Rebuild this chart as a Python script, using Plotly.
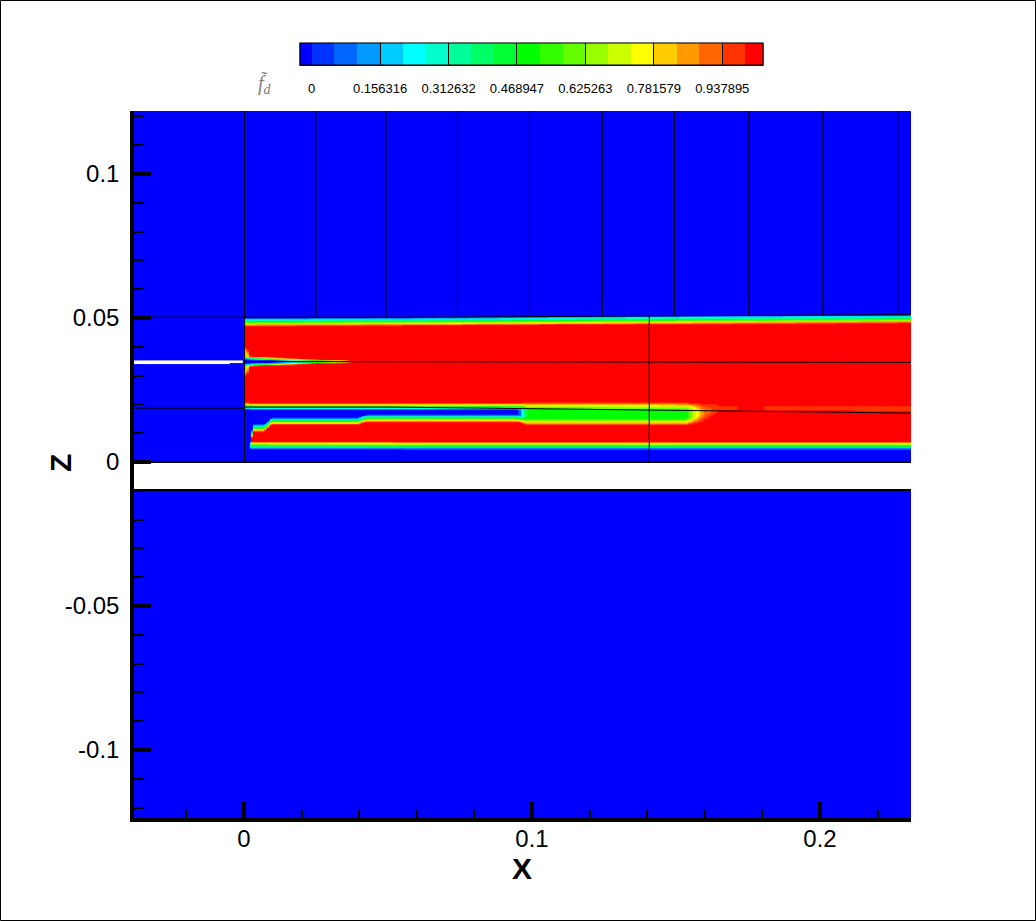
import numpy as np
import plotly.graph_objects as go

# ---------------- axes ----------------
x_range = [-0.0382, 0.2316]
z_range = [-0.1236, 0.1219]
x_tick_vals = [0.0, 0.1, 0.2]
x_tick_text = ["0", "0.1", "0.2"]
z_tick_vals = [-0.1, -0.05, 0.0, 0.05, 0.1]
z_tick_text = ["-0.1", "-0.05", "0", "0.05", "0.1"]

# ---------------- contour legend ----------------
cbar_ticks = [0, 0.156316, 0.312632, 0.468947, 0.625263, 0.781579, 0.937895]
cbar_text = ["0", "0.156316", "0.312632", "0.468947", "0.625263", "0.781579", "0.937895"]
n_levels = 20
cbar_min, cbar_max = -0.0267, 1.031
band_colors = ["#0000ff", "#0033ff", "#0066ff", "#0099ff", "#00ccff", "#00ffff", "#00ffcc",
               "#00ff99", "#00ff66", "#00ff33", "#00ff00", "#33ff00", "#66ff00", "#99ff00",
               "#ccff00", "#ffff00", "#ffcc00", "#ff9900", "#ff6600", "#ff3300", "#ff0000"]

# ---------------- field description ----------------
f_low, f_high = -0.02, 1.02
gap_z = [-0.0097, 0.0]          # white gap between the two domains
upper_top_z = 0.0525            # above this the field is uniform (blue)

jet_x = [0.0, 0.07, 0.14, 0.2316]
jet_top_z = [0.0486, 0.0489, 0.0493, 0.0497]
jet_bot_z = [0.0058, 0.0057, 0.0057, 0.0057]
jet_top_w = 0.0031
jet_bot_w = 0.0028

band_x = [0.0000, 0.0015, 0.0030, 0.0070, 0.0095, 0.0395, 0.0425, 0.0950, 0.0985,
          0.1535, 0.1595, 0.1650, 0.1710, 0.1730, 0.1790, 0.1810, 0.2316]
band_top = [0.0195, 0.0194, 0.0193, 0.0193, 0.0193, 0.0193, 0.0193, 0.0193, 0.0196,
            0.0195, 0.0195, 0.0198, 0.0198, 0.0198, 0.0198, 0.0198, 0.0196]
band_bot = [0.0000, 0.0000, 0.0118, 0.0118, 0.0142, 0.0142, 0.0152, 0.0152, 0.0139,
            0.0139, 0.0150, 0.0178, 0.0178, 0.0178, 0.0178, 0.0178, 0.0176]
band_depth = [1.0, 1.0, 1.0, 1.0, 1.0, 1.0, 1.0, 1.0, 0.50,
              0.50, 0.12, 0.05, 0.05, 0.0, 0.0, 0.05, 0.05]
band_w = 0.0026

wake_center = 0.0349
wake_x = [0.0002, 0.012, 0.036, 0.042, 0.2316]
wake_half = [0.0013, 0.0007, -0.0002, -0.0010, -0.0010]
wake_w = 0.0012
wake_depth = 1.0

lip_x = [0.0002, 0.0012, 0.0025]
lip_half = [0.0045, 0.0035, -0.0010]
lip_w = 0.002
lip_depth = 0.22

plate_x = [-0.0382, -0.0050, -0.0004]
plate_top = [0.0355, 0.0355, 0.0351]
plate_bot = [0.0340, 0.0341, 0.0346]

# ---------------- block (zone) boundary lines ----------------
upper_block_x = [0.0250, 0.0493, 0.0741, 0.0991, 0.1244, 0.1495, 0.1753, 0.2010, 0.2270]
blk_top_x = [-0.0382, 0.06, 0.2316]
blk_top_z = [0.0503, 0.0503, 0.0512]
blk_mid_x = [0.0002, 0.2316]
blk_mid_z = [0.0349, 0.0346]
blk_low_x = [-0.0382, 0.0002, 0.0002, 0.05, 0.2316]
blk_low_z = [0.0187, 0.0187, 0.0191, 0.0191, 0.0170]
blk_vert_x = [0.0002, 0.1407]

# ---------------- build grid ----------------
x_edges = np.round(np.arange(-0.0400, 0.2350 + 1e-9, 0.0005), 6)
xc = 0.5 * (x_edges[:-1] + x_edges[1:])
z_fine = np.round(np.arange(0.0, upper_top_z + 1e-9, 0.00025), 6)
zc = 0.5 * (z_fine[:-1] + z_fine[1:])
X, Z = np.meshgrid(xc, zc)


def ramp(t):
    return np.clip(t + 0.5, 0.0, 1.0)


zU = np.interp(X, jet_x, jet_top_z)
zL = np.interp(X, jet_x, jet_bot_z)
J = (X > 0).astype(float) * ramp((Z - zL) / jet_bot_w) * ramp((zU - Z) / jet_top_w)

bt = np.interp(X, band_x, band_top)
bb = np.interp(X, band_x, band_bot)
bd = np.interp(X, band_x, band_depth)
B = ramp((Z - bb) / band_w) * ramp((bt - Z) / band_w)

hw = np.interp(X, wake_x, wake_half)
W = ramp((hw - np.abs(Z - wake_center)) / wake_w) * (X > 0)
hl = np.interp(X, lip_x, lip_half)
L = ramp((hl - np.abs(Z - wake_center)) / lip_w) * (X > 0)

F = f_low + (f_high - f_low) * J * (1 - wake_depth * W) * (1 - lip_depth * L) * (1 - bd * B)

pt = np.interp(X, plate_x, plate_top)
pb = np.interp(X, plate_x, plate_bot)
plate_mask = (X < plate_x[-1]) & (Z >= pb) & (Z <= pt)
F = np.round(F, 4).astype(object)
F[plate_mask] = None

z_edges = [z_range[0] - 0.01, gap_z[0], gap_z[1]] + list(z_fine[1:]) + [z_range[1] + 0.01]
rows = [[f_low] * len(xc), [None] * len(xc)] + F.tolist() + [[f_low] * len(xc)]

# discrete colourscale
bounds = [cbar_min] + [k * cbar_ticks[1] / 3 for k in range(n_levels)] + [cbar_max]
span = cbar_max - cbar_min
colorscale = []
for i, c in enumerate(band_colors):
    colorscale.append([(bounds[i] - cbar_min) / span, c])
    colorscale.append([(bounds[i + 1] - cbar_min) / span, c])
colorscale[0][0] = 0.0
colorscale[-1][0] = 1.0

# ---------------- layout geometry ----------------
W_PX, H_PX = 1036, 921
ml, mr, mt, mb = 134, 125, 111, 103
pw, ph = W_PX - ml - mr, H_PX - mt - mb
cb_len_px, cb_thick_px = 463, 22
cb_left_px, cb_bar_bottom_px = 300, 66
cb_label_extent_px = 31          # labels hang below the bar by this much
cb_x = (cb_left_px + cb_len_px / 2 - ml) / pw
cb_y = (H_PX - mb - (cb_bar_bottom_px + cb_label_extent_px)) / ph
cb_div_y = (H_PX - mb - (cb_bar_bottom_px + cb_thick_px)) / ph   # inside ticks count in box

cb_common = dict(orientation="h", lenmode="pixels", len=cb_len_px,
                 thicknessmode="pixels", thickness=cb_thick_px,
                 x=cb_x, xanchor="center", yanchor="bottom",
                 xpad=0, ypad=0, outlinewidth=1, outlinecolor="black")

fig = go.Figure()
# field + labelled legend
fig.add_trace(go.Heatmap(
    x=x_edges, y=z_edges, z=rows, zmin=cbar_min, zmax=cbar_max,
    colorscale=colorscale, hoverinfo="skip",
    colorbar=dict(**cb_common, y=cb_y,
                  tickmode="array", tickvals=cbar_ticks, ticktext=cbar_text,
                  ticks="outside", ticklen=12, tickcolor="rgba(0,0,0,0)",
                  tickfont=dict(family="Liberation Sans", size=13, color="black")),
))
# same field again: its legend carries the black dividers at the labelled levels
fig.add_trace(go.Heatmap(
    x=x_edges, y=z_edges, z=rows, zmin=cbar_min, zmax=cbar_max,
    colorscale=colorscale, hoverinfo="skip",
    colorbar=dict(**cb_common, y=cb_div_y,
                  tickmode="array", tickvals=cbar_ticks[1:],
                  ticks="inside", ticklen=cb_thick_px, tickwidth=1, tickcolor="black",
                  showticklabels=False),
))

# block boundary lines
lx, lz = [], []
for xb in upper_block_x:
    lx += [xb, xb, None]
    lz += [z_range[1] + 0.01, float(np.interp(xb, blk_top_x, blk_top_z)), None]
for xs, zs in [(blk_top_x, blk_top_z), (blk_mid_x, blk_mid_z), (blk_low_x, blk_low_z)]:
    lx += list(xs) + [None]
    lz += list(zs) + [None]
lx += [blk_vert_x[0], blk_vert_x[0], None, blk_vert_x[1], blk_vert_x[1], None]
lz += [gap_z[1], z_range[1] + 0.01, None, gap_z[1], float(np.interp(blk_vert_x[1], blk_top_x, blk_top_z)), None]
fig.add_trace(go.Scatter(x=lx, y=lz, mode="lines", line=dict(color="black", width=1),
                         hoverinfo="skip", showlegend=False))
fig.add_trace(go.Scatter(x=[x_range[0] - 0.01, x_range[1] + 0.01, None, x_range[0] - 0.01, x_range[1] + 0.01],
                         y=[gap_z[1], gap_z[1], None, gap_z[0], gap_z[0]],
                         mode="lines", line=dict(color="black", width=2),
                         hoverinfo="skip", showlegend=False))

# outer frame of the picture
shapes = [dict(type="rect", xref="paper", yref="paper",
               x0=(0.5 - ml) / pw, x1=(W_PX - 0.5 - ml) / pw,
               y0=(H_PX - mb - (H_PX - 0.5)) / ph, y1=(H_PX - mb - 0.5) / ph,
               line=dict(color="black", width=1))]

tickfont = dict(family="Liberation Sans", size=24, color="black")
fig.update_layout(
    width=W_PX, height=H_PX,
    margin=dict(l=ml, r=mr, t=mt, b=mb, autoexpand=False),
    paper_bgcolor="white", plot_bgcolor="white", showlegend=False,
    xaxis=dict(range=x_range, tickmode="array", tickvals=x_tick_vals, ticktext=x_tick_text,
               ticks="inside", ticklen=17, tickwidth=3.5, tickcolor="black",
               minor=dict(ticks="inside", ticklen=9, tickwidth=1.5, tickcolor="black",
                          dtick=0.02, tick0=0, showgrid=False),
               showline=True, linewidth=3.5, linecolor="black", showgrid=False, zeroline=False,
               tickfont=tickfont, ticklabelstandoff=-4),
    yaxis=dict(range=z_range, tickmode="array", tickvals=z_tick_vals, ticktext=z_tick_text,
               ticks="inside", ticklen=17, tickwidth=3.5, tickcolor="black",
               minor=dict(ticks="inside", ticklen=9, tickwidth=1.5, tickcolor="black",
                          dtick=0.01, tick0=0, showgrid=False),
               showline=True, linewidth=3.5, linecolor="black", showgrid=False, zeroline=False,
               tickfont=tickfont, ticklabelstandoff=6),
    shapes=shapes,
    annotations=[
        dict(text="X", xref="paper", yref="paper", x=(522 - ml) / pw, y=(H_PX - mb - 868) / ph,
             showarrow=False, xanchor="center", yanchor="middle",
             font=dict(family="Liberation Sans", size=30, color="black", weight="bold")),
        dict(text="Z", xref="paper", yref="paper", x=(60 - ml) / pw, y=(H_PX - mb - 463) / ph,
             showarrow=False, xanchor="center", yanchor="middle", textangle=-90,
             font=dict(family="Liberation Sans", size=30, color="black", weight="bold")),
        dict(text="<i>f\u0303</i><sub><i>d</i></sub>", xref="paper", yref="paper",
             x=(265 - ml) / pw, y=(H_PX - mb - 84) / ph, showarrow=False,
             xanchor="center", yanchor="middle",
             font=dict(family="Liberation Serif", size=20, color="#808080")),
    ],
)

fig.write_html("out.html", config={"displayModeBar": False},
               post_script="document.body.style.margin='0';document.body.style.overflow='hidden';")
